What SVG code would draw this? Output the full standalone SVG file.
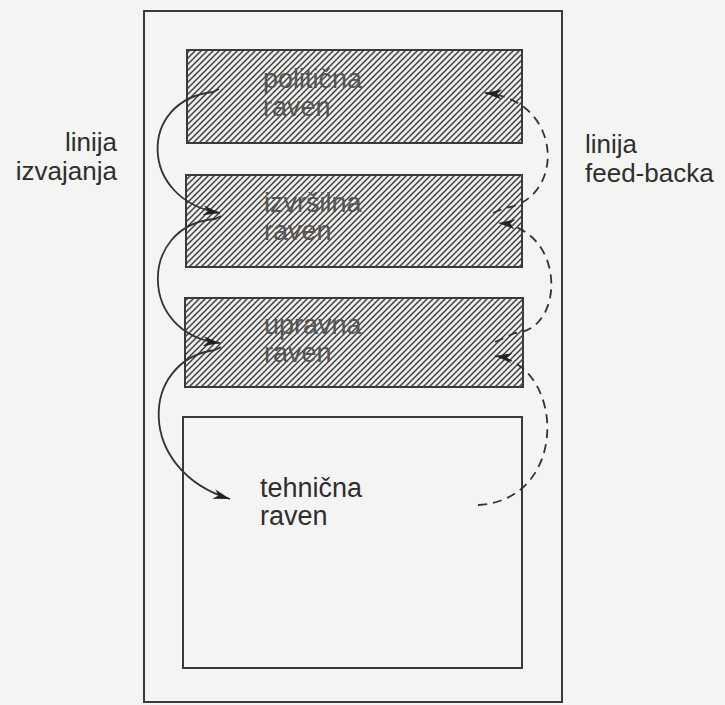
<svg xmlns="http://www.w3.org/2000/svg" width="725" height="705" viewBox="0 0 725 705">
  <style>
    .frame { fill: none; stroke: #3a3a3a; stroke-width: 2; }
    .hbox { fill: url(#hatch); stroke: #3a3a3a; stroke-width: 2; }
    .wbox { fill: none; stroke: #3a3a3a; stroke-width: 2; }
    .lbl { font-family: "Liberation Sans", Arial, sans-serif; font-size: 27px; fill: #2e2e2e; }
    .side { font-family: "Liberation Sans", Arial, sans-serif; font-size: 26px; fill: #2e2e2e; }
    .hlbl { font-family: "Liberation Sans", Arial, sans-serif; font-size: 27px; fill: #555; }
    .solid { fill: none; stroke: #333; stroke-width: 1.8; }
    .dash { fill: none; stroke: #333; stroke-width: 1.8; stroke-dasharray: 9 6; }
  </style>
  <defs>
    <pattern id="hatch" patternUnits="userSpaceOnUse" width="6" height="6">
      <rect width="6" height="6" fill="#efefed"/>
      <path d="M-1,1 L1,-1 M0,6 L6,0 M5,7 L7,5" stroke="#404040" stroke-width="1.5"/>
    </pattern>
    <marker id="arr" markerUnits="userSpaceOnUse" markerWidth="18" markerHeight="12" refX="17" refY="6" orient="auto">
      <path d="M0,1 L17,6 L0,11 L5,6 z" fill="#222"/>
    </marker>
  </defs>
  <rect width="725" height="705" fill="#f4f4f2"/>
  <g id="frame"><rect class="frame" x="144" y="11" width="418" height="691"/></g>
  <g id="politicna">
    <rect class="hbox" x="187" y="50" width="335" height="93"/>
    <text class="hlbl" x="263" y="88">politična</text>
    <text class="hlbl" x="263" y="116">raven</text>
  </g>
  <g id="izvrsilna">
    <rect class="hbox" x="186" y="175" width="336" height="92"/>
    <text class="hlbl" x="264" y="212">izvršilna</text>
    <text class="hlbl" x="264" y="240">raven</text>
  </g>
  <g id="upravna">
    <rect class="hbox" x="185" y="298" width="338" height="89"/>
    <text class="hlbl" x="264" y="334">upravna</text>
    <text class="hlbl" x="264" y="362">raven</text>
  </g>
  <g id="tehnicna">
    <rect class="wbox" x="183" y="417" width="339" height="251"/>
    <text class="lbl" x="260" y="497">tehnična</text>
    <text class="lbl" x="260" y="525">raven</text>
  </g>
  <g id="label-izvajanja">
    <text class="side" x="117" y="151" text-anchor="end">linija</text>
    <text class="side" x="117" y="180" text-anchor="end">izvajanja</text>
  </g>
  <g id="label-feedback">
    <text class="side" x="585" y="153">linija</text>
    <text class="side" x="585" y="182">feed-backa</text>
  </g>
  <g id="connectors">
    <path class="solid" marker-end="url(#arr)" d="M219,89 L213,92 C138,100 138,200 220,213"/>
    <path class="solid" marker-end="url(#arr)" d="M221,216 L215,219 C138,225 138,335 220,343"/>
    <path class="solid" marker-end="url(#arr)" d="M221,347 L215,350 C140,360 135,470 230,499"/>
    <path class="dash" marker-end="url(#arr)" d="M493,213 L505,208 C565,200 565,100 485,93"/>
    <path class="dash" marker-end="url(#arr)" d="M495,342 L515,333 C566,330 566,228 498,223"/>
    <path class="dash" marker-end="url(#arr)" d="M478,505 C570,500 565,365 495,356"/>
  </g>
</svg>
